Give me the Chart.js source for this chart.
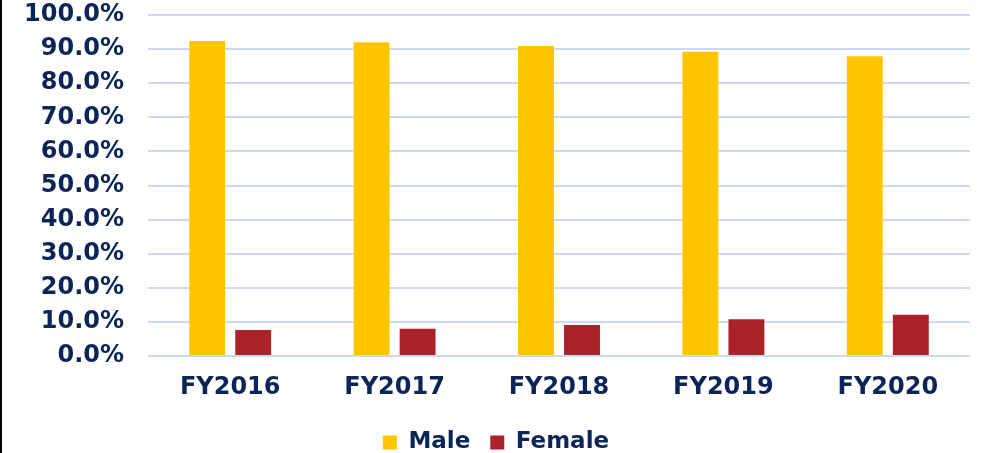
<!DOCTYPE html>
<html>
<head>
<meta charset="utf-8">
<script src="https://cdn.jsdelivr.net/npm/chart.js@4/dist/chart.umd.min.js"></script>
<style>
  html, body { margin: 0; padding: 0; background: #fff; }
  .frame { position: relative; width: 979px; height: 453px; border-left: 2px solid #000; }
  canvas { display: block; }
</style>
</head>
<body>
<div class="frame">
  <canvas id="chart" width="979" height="453"></canvas>
</div>
<script>
const years = ['FY2016', 'FY2017', 'FY2018', 'FY2019', 'FY2020'];
const male = [92.4, 92.0, 90.9, 89.2, 87.9];
const female = [7.6, 8.0, 9.1, 10.8, 12.1];

const navy = '#0b2559';
const tickFont = { family: 'DejaVu Sans', weight: 'bold', size: 24, lineHeight: 1 };
const legendFont = { family: 'DejaVu Sans', weight: 'bold', size: 23, lineHeight: 1 };

new Chart(document.getElementById('chart'), {
  type: 'bar',
  data: {
    labels: years,
    datasets: [
      { label: 'Male', data: male, backgroundColor: '#ffc600', categoryPercentage: 0.56, barPercentage: 0.78 },
      { label: 'Female', data: female, backgroundColor: '#ab222b', categoryPercentage: 0.56, barPercentage: 0.78 }
    ]
  },
  options: {
    responsive: false,
    animation: false,
    layout: { padding: { left: 20, right: 11, top: 15, bottom: -11 } },
    plugins: {
      tooltip: { enabled: false },
      legend: {
        position: 'bottom',
        labels: { color: navy, font: legendFont, boxWidth: 14, boxHeight: 14, padding: 20 }
      }
    },
    scales: {
      x: {
        grid: { display: false },
        border: { display: false },
        afterFit: (s) => { s.height = 55; },
        ticks: { color: navy, font: tickFont, padding: 12 }
      },
      y: {
        min: 0,
        max: 100,
        border: { display: false },
        grid: { color: '#cbd9f6', lineWidth: 2, drawTicks: false },
        afterFit: (s) => { s.width = 126; s.paddingTop = 0; s.paddingBottom = 0; },
        ticks: {
          stepSize: 10,
          autoSkip: false,
          color: navy,
          font: tickFont,
          padding: 24,
          callback: (v) => v.toFixed(1) + '%'
        }
      }
    }
  }
});
</script>
</body>
</html>
